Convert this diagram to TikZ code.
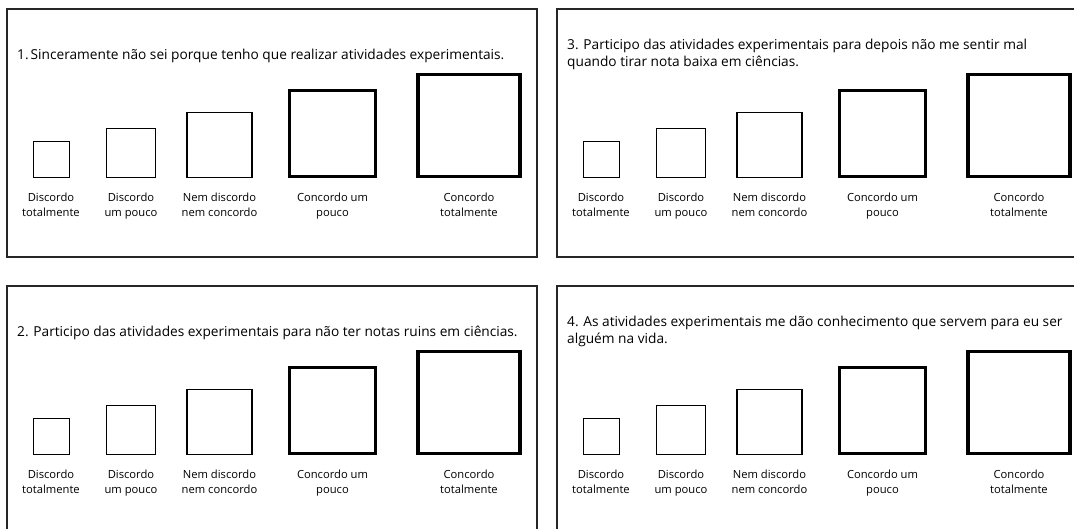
\documentclass[tikz,border=0pt]{standalone}
\usepackage{fontspec}
\setmainfont{Open Sans}
\newcommand\likertpanel[4]{%
\begin{scope}[shift={(#2,#3)}]
  \draw[panel] (7,9) rectangle (537,257);
  \node[lik=36pt,line width=1pt] (#1a) at (51,159.5) {};
  \node[lik=48.7pt,line width=1.3pt] (#1b) at (131,153) {};
  \node[lik=65pt,line width=1.8pt] (#1c) at (219.5,145) {};
  \node[lik=86pt,line width=2.8pt] (#1d) at (332.5,133.5) {};
  \node[lik=102pt,line width=3.8pt] (#1e) at (469,125.5) {};
  \node[lab] (#1la) at (51,192.5) {Discordo\\totalmente};
  \node[lab] (#1lb) at (131,192.5) {Discordo\\um pouco};
  \node[lab] (#1lc) at (219.5,192.5) {Nem discordo\\nem concordo};
  \node[lab] (#1ld) at (332.5,192.5) {Concordo um\\pouco};
  \node[lab] (#1le) at (469,192.5) {Concordo\\totalmente};
  #4
\end{scope}}
\begin{document}
\begin{tikzpicture}[x=1pt,y=-1pt,
  panel/.style={draw=black!85,line width=1.5pt},
  lik/.style={draw=black,fill=white,inner sep=0pt,outer sep=0pt,minimum size=#1},
  lab/.style={font=\fontsize{11.2}{15}\selectfont,align=center,anchor=north,inner sep=0pt},
  ttl/.style={font=\fontsize{13.7}{17.5}\selectfont,align=left,anchor=north west,inner sep=0pt}]
\path[use as bounding box,clip] (0,0) rectangle (1074,528);
\fill[white] (0,0) rectangle (1074,528);
\likertpanel{pa}{0}{0}{\node[ttl] (pat) at (17,48.5) {1.\kern2pt Sinceramente não sei porque tenho que realizar atividades experimentais.};}
\likertpanel{pc}{550}{0}{\node[ttl] (pct) at (17,38.5) {3. Participo das atividades experimentais para depois não me sentir mal\\quando tirar nota baixa em ciências.};}
\likertpanel{pb}{0}{277}{\node[ttl] (pbt) at (17,48.5) {2. Participo das atividades experimentais para não ter notas ruins em ciências.};}
\likertpanel{pd}{550}{277}{\node[ttl] (pdt) at (17,38.5) {4. As atividades experimentais me dão conhecimento que servem para eu ser\\alguém na vida.};}
\end{tikzpicture}
\end{document}
